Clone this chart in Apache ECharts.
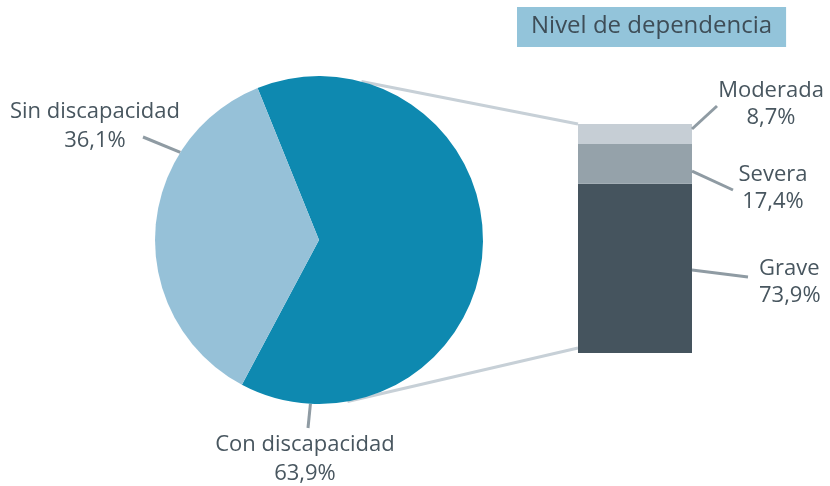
<!DOCTYPE html>
<html><head><meta charset="utf-8">
<script src="https://cdn.jsdelivr.net/npm/echarts@6/dist/echarts.min.js"></script>
<style>html,body{margin:0;padding:0;background:#fff}#c{width:830px;height:486px}</style>
</head><body><div id="c"></div>
<script>
const pieCategories = ['Con discapacidad', 'Sin discapacidad'];
const pieValues = [63.9, 36.1];
const depCategories = ['Grave', 'Severa', 'Moderada'];
const depValues = [73.9, 17.4, 8.7];
const chartTitle = 'Nivel de dependencia';

const FONT = '"Open Sans", sans-serif';
const TXT = '#48565f';
const LINE = '#8f9ba3';
const LINK = '#c7d0d7';
const PIE_COLORS = ['#0e89b0', '#96c1d8'];
const DEP_COLORS = ['#45545e', '#95a2aa', '#c6ced5'];
const CX = 319, CY = 240, R = 164;
const GRID_LEFT = 578, BAR_W = 114;
const fmt = v => v.toFixed(1).replace('.', ',') + '%';
const polar = (deg, r) => [CX + r * Math.cos(deg * Math.PI / 180), CY - r * Math.sin(deg * Math.PI / 180)];

const pieLabelPlace = [
  {angle: -93, end: [308, 428], pos: [305, 459], align: 'center'},
  {angle: 147.7, end: [143, 137], pos: [95, 126], align: 'center'}
];
const depLabelPlace = [
  {frac: 0.51, end: [748, 277], pos: [759, 282], align: 'left'},
  {frac: 0.68, end: [733, 190], pos: [773, 188], align: 'center'},
  {frac: 0.25, end: [717, 106], pos: [771, 104], align: 'center'}
];

const chart = echarts.init(document.getElementById('c'), null, {renderer: 'canvas'});

const barSeries = depCategories.map((name, i) => ({
  type: 'bar',
  name: name,
  stack: 'dep',
  silent: true,
  barWidth: '100%',
  data: [depValues[i]],
  itemStyle: {color: DEP_COLORS[i]},
  label: {
    show: true,
    formatter: p => p.seriesName + '\n' + fmt(p.value),
    color: TXT, fontSize: 22, lineHeight: 27, fontFamily: FONT
  },
  labelLayout: function () {
    const pl = depLabelPlace[i];
    return {x: pl.pos[0], y: pl.pos[1], align: pl.align, verticalAlign: 'middle'};
  }
}));

chart.setOption({
  animation: false,
  backgroundColor: '#ffffff',
  title: {
    text: chartTitle,
    left: 517, top: 7,
    backgroundColor: '#93c4da',
    padding: [6, 14, 7, 14],
    textStyle: {fontSize: 24, fontWeight: 'normal', color: '#3e4d57', fontFamily: FONT, lineHeight: 27}
  },
  grid: {left: GRID_LEFT, width: BAR_W, top: 124, height: 229},
  xAxis: {type: 'category', data: ['dep'], show: false},
  yAxis: {type: 'value', min: 0, max: 100, show: false},
  series: [
    {
      type: 'pie',
      silent: true,
      z: 3,
      center: [CX, CY],
      radius: R,
      startAngle: 112,
      clockwise: true,
      data: pieCategories.map((n, i) => ({name: n, value: pieValues[i], itemStyle: {color: PIE_COLORS[i]}})),
      label: {
        show: true, position: 'outside', width: 240, overflow: 'none',
        formatter: p => p.name + '\n' + fmt(p.value),
        color: TXT, fontSize: 22, lineHeight: 29, fontFamily: FONT
      },
      labelLine: {show: true, smooth: false, lineStyle: {color: LINE, width: 3}},
      labelLayout: function (params) {
        const pl = pieLabelPlace[params.dataIndex];
        return {
          x: pl.pos[0], y: pl.pos[1], align: pl.align, verticalAlign: 'middle',
          labelLinePoints: [polar(pl.angle, R), pl.end, pl.end]
        };
      }
    }
  ].concat(barSeries)
});

// stacked segment boundaries in pixels
const cum = [0];
depValues.forEach(v => cum.push(cum[cum.length - 1] + v));
const yPix = cum.map(v => chart.convertToPixel({yAxisIndex: 0}, v));
const barRight = GRID_LEFT + BAR_W;
const leaders = depLabelPlace.map((pl, i) => {
  const y0 = yPix[i + 1], y1 = yPix[i];
  const sy = y0 + (y1 - y0) * pl.frac;
  return {type: 'line', z: 5, silent: true,
    shape: {x1: barRight, y1: sy, x2: pl.end[0], y2: pl.end[1]},
    style: {stroke: LINE, lineWidth: 3}};
});
const pTop = polar(75, R), pBot = polar(-80, R);
chart.setOption({
  graphic: [
    {type: 'line', z: 1, silent: true, shape: {x1: pTop[0], y1: pTop[1], x2: GRID_LEFT, y2: yPix[yPix.length - 1]}, style: {stroke: LINK, lineWidth: 3}},
    {type: 'line', z: 1, silent: true, shape: {x1: pBot[0], y1: pBot[1], x2: GRID_LEFT, y2: yPix[0] - 5}, style: {stroke: LINK, lineWidth: 3}}
  ].concat(leaders)
});
</script></body></html>
